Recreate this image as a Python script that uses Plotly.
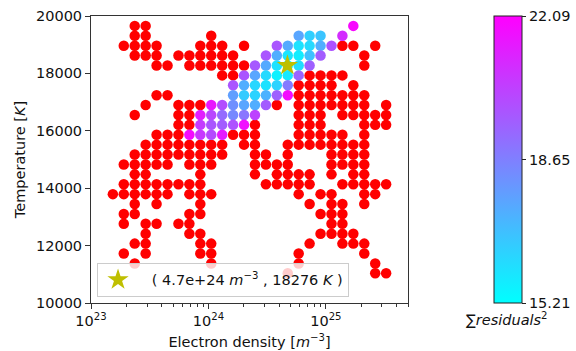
import plotly.graph_objects as go

# ---- grid axes ----
density_grid = [1.000e23, 1.239e23, 1.535e23, 1.902e23, 2.357e23, 2.920e23, 3.617e23, 4.482e23,
                5.553e23, 6.882e23, 8.527e23, 1.056e24, 1.309e24, 1.621e24, 2.009e24, 2.489e24,
                3.084e24, 3.821e24, 4.733e24, 5.864e24, 7.266e24, 9.004e24, 1.116e25, 1.382e25,
                1.712e25, 2.122e25, 2.629e25, 3.256e25, 4.036e25, 5.000e25]
temperature_grid = [10000, 10345, 10690, 11034, 11379, 11724, 12069, 12414, 12759, 13103,
                    13448, 13793, 14138, 14483, 14828, 15172, 15517, 15862, 16207, 16552,
                    16897, 17241, 17586, 17931, 18276, 18621, 18966, 19310, 19655, 20000]

# ---- points above the colour range (drawn red): temperature row -> density columns ----
over_rows = {
    28: [4, 5],
    27: [4, 5, 11],
    26: [3, 4, 5, 6, 10, 11, 12, 14, 23, 24, 26],
    25: [4, 5, 6, 8, 9, 10, 11, 12, 13, 25],
    24: [6, 7, 9, 10, 11, 12, 13, 14, 25],
    23: [12, 13, 20, 21, 22, 23],
    22: [19, 20, 21, 22, 24],
    21: [6, 7, 19, 20, 21, 22, 23, 24, 25],
    20: [5, 8, 9, 10, 17, 19, 20, 21, 22, 23, 24, 25, 27],
    19: [4, 8, 9, 19, 20, 21, 23, 24, 25, 26, 27],
    18: [8, 9, 15, 19, 20, 21, 25, 26, 27],
    17: [6, 7, 8, 13, 14, 15, 19, 20, 21, 22, 23, 25],
    16: [5, 6, 7, 8, 9, 10, 11, 12, 14, 15, 18, 19, 20, 21, 22, 23, 24, 25],
    15: [4, 5, 6, 7, 8, 9, 10, 11, 12, 15, 16, 18, 22, 23, 24, 25],
    14: [3, 4, 5, 6, 7, 9, 10, 11, 15, 16, 17, 18, 22, 23, 24, 25],
    13: [4, 5, 10, 15, 17, 18, 19, 20, 22, 24, 25],
    12: [3, 4, 5, 6, 7, 8, 9, 10, 16, 17, 18, 19, 20, 23, 24, 25, 26, 27],
    11: [2, 3, 4, 5, 6, 7, 9, 10, 11, 19, 21, 22, 25, 26],
    10: [4, 6, 10, 20, 22, 23, 25],
    9: [3, 4, 9, 10, 21, 22, 23],
    8: [3, 5, 6, 8, 9, 22, 23],
    7: [5, 9, 10, 21, 22, 23, 24],
    6: [4, 5, 10, 11, 20, 23, 24, 25],
    5: [3, 5, 10, 11, 19, 25],
    4: [4, 11, 19, 26],
    3: [18, 26, 27],
}

# ---- points inside the colour range: (density column, temperature row, sum of residuals^2) ----
colored_points = [
    (24, 28, 21.9),
    (19, 27, 17.6), (20, 27, 16.5), (21, 27, 16.8), (23, 27, 20.9),
    (17, 26, 19.8), (18, 26, 17.5), (19, 26, 16.0), (20, 26, 16.2), (21, 26, 17.4), (22, 26, 19.9),
    (16, 25, 19.8), (17, 25, 17.4), (18, 25, 15.9), (19, 25, 15.7), (20, 25, 16.9), (21, 25, 19.6),
    (15, 24, 19.7), (16, 24, 17.5), (17, 24, 16.0), (18, 24, 15.21), (19, 24, 16.1), (20, 24, 19.5),
    (14, 23, 19.8), (15, 23, 17.6), (16, 23, 16.2), (17, 23, 15.6), (18, 23, 15.8), (19, 23, 19.4),
    (13, 22, 19.8), (14, 22, 17.4), (15, 22, 16.3), (16, 22, 16.0), (17, 22, 16.4), (18, 22, 18.8),
    (13, 21, 17.8), (14, 21, 16.6), (15, 21, 16.4), (16, 21, 17.3), (17, 21, 19.5), (18, 21, 21.8),
    (11, 20, 21.5), (12, 20, 20.0), (13, 20, 18.2), (14, 20, 17.6), (15, 20, 17.4), (16, 20, 19.6),
    (10, 19, 21.3), (11, 19, 20.2), (12, 19, 19.2), (13, 19, 18.4), (14, 19, 18.9), (15, 19, 20.3),
    (10, 18, 20.5), (11, 18, 19.8), (12, 18, 19.6), (13, 18, 19.9), (14, 18, 21.7),
    (9, 17, 21.8), (10, 17, 20.6), (11, 17, 20.1), (12, 17, 21.4),
]

best_density = 4.7e24
best_temperature = 18276
cbar_min, cbar_max = 15.21, 22.09
cbar_ticks = [15.21, 18.65, 22.09]
x_major = [1e23, 1e24, 1e25]
x_minor = [k * d for d in (1e23, 1e24, 1e25) for k in (2, 3, 4, 5, 6, 7, 8, 9) if k * d <= 5e25]
y_ticks = [10000, 12000, 14000, 16000, 18000, 20000]

FONT = "DejaVu Sans"
FS = 14.5

over_x, over_y = [], []
for row, cols in over_rows.items():
    for c in cols:
        over_x.append(density_grid[c])
        over_y.append(temperature_grid[row])

col_x = [density_grid[c] for c, r, v in colored_points]
col_y = [temperature_grid[r] for c, r, v in colored_points]
col_v = [v for c, r, v in colored_points]

fig = go.Figure()
fig.add_trace(go.Scatter(
    x=over_x, y=over_y, mode="markers", showlegend=False, hoverinfo="skip",
    marker=dict(size=10.5, color="#ff0000", line=dict(width=0)),
))
fig.add_trace(go.Scatter(
    x=col_x, y=col_y, mode="markers", showlegend=False,
    marker=dict(size=10.5, color=col_v, cmin=cbar_min, cmax=cbar_max,
                colorscale=[[0, "rgb(0,255,255)"], [1, "rgb(255,0,255)"]],
                line=dict(width=0),
                colorbar=dict(
                    x=1.271, xanchor="left", xpad=0, y=0.5, yanchor="middle", ypad=0,
                    len=1, lenmode="fraction", thickness=28,
                    outlinecolor="#222", outlinewidth=1,
                    tickmode="array", tickvals=cbar_ticks,
                    ticktext=["%.2f" % t for t in cbar_ticks],
                    ticks="outside", ticklen=4, tickcolor="#222",
                    tickfont=dict(family=FONT, size=FS, color="#111"),
                )),
))
fig.add_trace(go.Scatter(
    x=[best_density], y=[best_temperature], mode="markers",
    name="   ( %.1e <i>m</i><sup>−3</sup> , %d <i>K</i> )" % (best_density, best_temperature),
    marker=dict(symbol="star", size=16, color="#bfbf00", line=dict(width=0)),
))

fig.update_layout(
    width=576, height=351,
    margin=dict(l=91, r=168, t=16, b=48, autoexpand=False),
    paper_bgcolor="white", plot_bgcolor="white",
    font=dict(family=FONT, size=FS, color="#111"),
    showlegend=True,
    legend=dict(x=0.019, y=0.022, xanchor="left", yanchor="bottom",
                bgcolor="rgba(255,255,255,0.8)", bordercolor="#cccccc", borderwidth=1,
                font=dict(family=FONT, size=FS, color="#111")),
    annotations=[dict(
        xref="paper", yref="paper", x=1.312, y=-0.055, xanchor="center", yanchor="middle",
        text="∑<i>residuals</i><sup>2</sup>", showarrow=False,
        font=dict(family=FONT, size=FS, color="#111"),
    )],
    shapes=[dict(type="line", xref="paper", yref="paper", x0=1.271, x1=1.271 + 28 / 317,
                 y0=0.997, y1=0.997, line=dict(color="#8b0000", width=1.5))],
)

fig.update_xaxes(
    type="log", range=[23, 25.69897], showgrid=False, zeroline=False,
    showline=True, mirror=True, linecolor="#333", linewidth=1,
    tickmode="array", tickvals=x_major,
    ticktext=["10<sup>23</sup>", "10<sup>24</sup>", "10<sup>25</sup>"],
    ticks="outside", ticklen=5, tickcolor="#333",
    minor=dict(ticks="outside", ticklen=3, tickcolor="#333", showgrid=False,
               tickmode="array", tickvals=x_minor),
    title=dict(text="Electron density [<i>m</i><sup>−3</sup>]", standoff=8,
               font=dict(family=FONT, size=FS, color="#111")),
)
fig.update_yaxes(
    range=[10000, 20000], showgrid=False, zeroline=False,
    showline=True, mirror=True, linecolor="#333", linewidth=1,
    tickmode="array", tickvals=y_ticks,
    ticktext=[str(t) for t in y_ticks],
    ticks="outside", ticklen=5, tickcolor="#333",
    title=dict(text="Temperature [<i>K</i>]", standoff=6,
               font=dict(family=FONT, size=FS, color="#111")),
)

fig.write_html("out.html", config={"displayModeBar": False},
               post_script="document.body.style.margin='0px';document.body.style.overflow='hidden';")
